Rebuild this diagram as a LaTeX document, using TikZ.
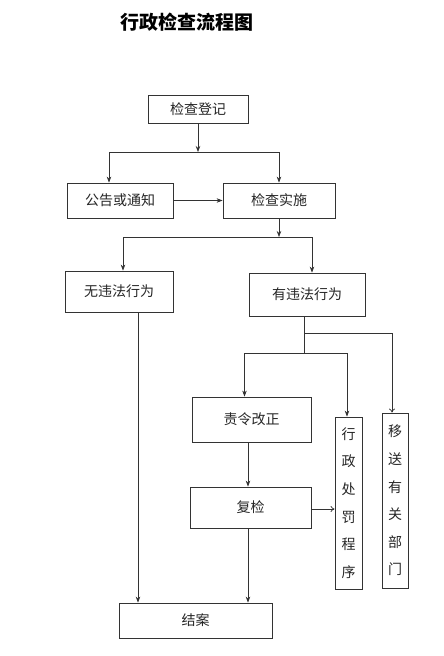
\documentclass[tikz,border=0pt]{standalone}
\usepackage{fontspec}
\newfontfamily\cjk{Noto Sans CJK SC}
\usetikzlibrary{arrows.meta}
\tikzset{
  box/.style={draw=black!80, line width=0.8pt, fill=white, inner sep=0pt,
    font=\cjk\fontsize{14}{16}\selectfont, text=black!85},
  vbox/.style={box, align=center, font=\cjk\fontsize{14}{27.6}\selectfont},
  conn/.style={draw=black!80, line width=0.7pt},
  arr/.style={conn, -{Stealth[length=6pt,width=4.5pt]}},
  openarr/.style={conn, -{To[length=4pt,width=6pt]}},
}
\begin{document}
\begin{tikzpicture}[x=1pt,y=1pt]
\useasboundingbox[fill=white] (0,0) rectangle (444,-656);
\node[font=\cjk\bfseries\fontsize{19}{22}\selectfont] (title) at (186.5,-22) {行政检查流程图};

\node[box, minimum width=100pt, minimum height=28pt] (reg) at (198,-109) {检查登记};
\node[box, minimum width=106pt, minimum height=35pt] (notice) at (120,-200.5) {公告或通知};
\node[box, minimum width=112pt, minimum height=35pt] (impl) at (279,-200.5) {检查实施};
\node[box, minimum width=108pt, minimum height=41pt] (nov) at (119,-291.5) {无违法行为};
\node[box, minimum width=116pt, minimum height=43pt] (vio) at (307,-294.5) {有违法行为};
\node[box, minimum width=119pt, minimum height=45pt] (order) at (251.5,-419.5) {责令改正};
\node[box, minimum width=121pt, minimum height=41pt] (recheck) at (250.5,-507.5) {复检};
\node[vbox, minimum width=27pt, minimum height=172pt] (penalty) at (348.5,-503) {行\\政\\处\\罚\\程\\序};
\node[vbox, minimum width=26pt, minimum height=175pt] (transfer) at (395,-500.5) {移\\送\\有\\关\\部\\门};
\node[box, minimum width=153pt, minimum height=35pt] (close) at (195.5,-620.5) {结案};

\coordinate (j1) at (198,-152);
\coordinate (j2) at (279,-237);
\coordinate (j3) at (304,-333);
\coordinate (j4) at (304,-353);
\coordinate (c1) at (138,0);
\coordinate (c2) at (248,0);

\draw[arr] (reg) -- (j1);
\draw[arr] (j1) -| ([xshift=-11pt]notice.north);
\draw[arr] (j1) -| (impl.north);
\draw[arr] (notice) -- (impl);
\draw[arr] (impl) -- (j2);
\draw[arr] (j2) -| ([xshift=4pt]nov.north);
\draw[arr] (j2) -| ([xshift=5pt]vio.north);
\draw[conn] (vio.south -| j3) -- (j4);
\draw[openarr] (j3) -| ([xshift=-3pt]transfer.north);
\draw[arr] (j4) -| ([xshift=-7pt]order.north);
\draw[arr] (j4) -| ([xshift=-1.5pt]penalty.north);
\draw[arr] (order.south -| c2) -- (recheck.north -| c2);
\draw[openarr] (recheck.east |- 0,-509) -- (penalty.west |- 0,-509);
\draw[arr] (recheck.south -| c2) -- (close.north -| c2);
\draw[arr] (nov.south -| c1) -- (close.north -| c1);
\end{tikzpicture}
\end{document}
